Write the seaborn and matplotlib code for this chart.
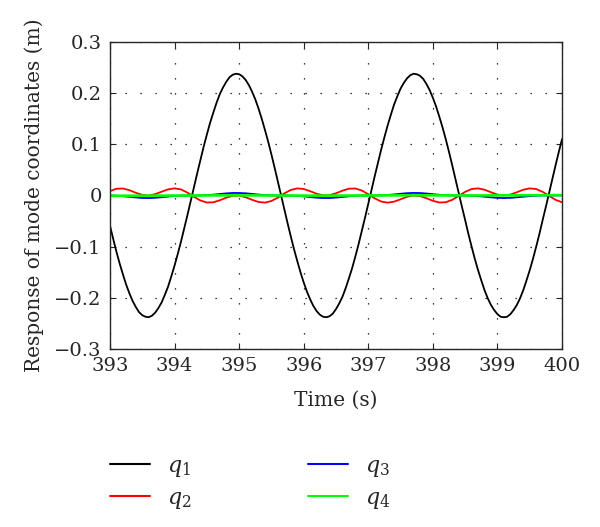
import numpy as np
import pandas as pd
import seaborn as sns
import matplotlib.pyplot as plt

# time samples (s): q1 read every 0.05 s, the small modes every 0.1 s
time_q1 = np.round(np.arange(393.0, 400.025, 0.05), 2)
time = np.round(np.arange(393.0, 400.05, 0.1), 1)

# response of mode coordinates (m)
q1 = [-0.059, -0.085, -0.110, -0.133, -0.154, -0.174, -0.191, -0.206, -0.218, -0.228,
      -0.234, -0.237, -0.238, -0.235, -0.229, -0.220, -0.209, -0.194, -0.178, -0.158,
      -0.137, -0.114, -0.090, -0.064, -0.038, -0.011, 0.016, 0.043, 0.069, 0.095,
      0.119, 0.142, 0.162, 0.181, 0.198, 0.211, 0.222, 0.231, 0.236, 0.238,
      0.237, 0.233, 0.226, 0.216, 0.203, 0.188, 0.170, 0.150, 0.128, 0.105,
      0.080, 0.054, 0.027, 0.000, -0.027, -0.054, -0.080, -0.105, -0.128, -0.150,
      -0.170, -0.188, -0.203, -0.216, -0.226, -0.233, -0.237, -0.238, -0.236, -0.231,
      -0.222, -0.211, -0.198, -0.181, -0.162, -0.142, -0.119, -0.095, -0.069, -0.043,
      -0.016, 0.011, 0.038, 0.064, 0.090, 0.114, 0.137, 0.158, 0.178, 0.194,
      0.209, 0.220, 0.229, 0.235, 0.238, 0.237, 0.234, 0.228, 0.218, 0.206,
      0.191, 0.174, 0.154, 0.133, 0.110, 0.085, 0.059, 0.032, 0.005, -0.022,
      -0.048, -0.075, -0.100, -0.124, -0.146, -0.166, -0.185, -0.201, -0.214, -0.224,
      -0.232, -0.237, -0.238, -0.237, -0.232, -0.224, -0.214, -0.201, -0.185, -0.166,
      -0.146, -0.124, -0.100, -0.075, -0.048, -0.022, 0.005, 0.032, 0.059, 0.085,
      0.110]
q2 = [0.0085, 0.0132, 0.0137, 0.0104, 0.0053, 0.0012, 0.0001, 0.0026, 0.0074, 0.0120,
      0.0140, 0.0118, 0.0056, -0.0025, -0.0097, -0.0137, -0.0133, -0.0094, -0.0043, -0.0007,
      -0.0003, -0.0034, -0.0084, -0.0127, -0.0139, -0.0108, -0.0041, 0.0041, 0.0108, 0.0139,
      0.0127, 0.0084, 0.0034, 0.0003, 0.0007, 0.0043, 0.0094, 0.0133, 0.0137, 0.0097,
      0.0025, -0.0056, -0.0118, -0.0140, -0.0120, -0.0074, -0.0026, -0.0001, -0.0012, -0.0053,
      -0.0104, -0.0137, -0.0132, -0.0085, -0.0008, 0.0071, 0.0126, 0.0139, 0.0113, 0.0063,
      0.0018, 0.0000, 0.0018, 0.0063, 0.0113, 0.0139, 0.0126, 0.0071, -0.0008, -0.0085,
      -0.0132]
q3 = [-0.0001, -0.0005, -0.0014, -0.0026, -0.0039, -0.0048, -0.0050, -0.0045, -0.0034, -0.0021,
      -0.0010, -0.0003, 0.0000, 0.0000, 0.0001, 0.0006, 0.0016, 0.0029, 0.0041, 0.0049,
      0.0049, 0.0043, 0.0031, 0.0018, 0.0008, 0.0002, 0.0000, 0.0000, -0.0002, -0.0008,
      -0.0018, -0.0031, -0.0043, -0.0049, -0.0049, -0.0041, -0.0029, -0.0016, -0.0006, -0.0001,
      0.0000, 0.0000, 0.0003, 0.0010, 0.0021, 0.0034, 0.0045, 0.0050, 0.0048, 0.0039,
      0.0026, 0.0014, 0.0005, 0.0001, 0.0000, 0.0000, -0.0004, -0.0012, -0.0023, -0.0036,
      -0.0046, -0.0050, -0.0046, -0.0036, -0.0023, -0.0012, -0.0004, 0.0000, 0.0000, 0.0001,
      0.0005]
q4 = [-0.0006, -0.0006, -0.0005, -0.0005, -0.0004, -0.0004, -0.0003, -0.0003, -0.0002, -0.0002,
      -0.0001, -0.0001, 0.0000, 0.0000, 0.0001, 0.0001, 0.0002, 0.0002, 0.0003, 0.0003,
      0.0003, 0.0002, 0.0002, 0.0001, 0.0001, 0.0000, 0.0000, -0.0001, -0.0001, -0.0002,
      -0.0002, -0.0003, -0.0003, -0.0003, -0.0002, -0.0002, -0.0001, -0.0001, 0.0000, 0.0000,
      0.0001, 0.0001, 0.0002, 0.0002, 0.0003, 0.0003, 0.0004, 0.0004, 0.0004, 0.0003,
      0.0003, 0.0002, 0.0002, 0.0001, 0.0001, 0.0000, 0.0000, 0.0001, 0.0001, 0.0002,
      0.0002, 0.0003, 0.0003, 0.0004, 0.0004, 0.0005, 0.0005, 0.0006, 0.0006, 0.0007,
      0.0007]

names = ["$q_1$", "$q_2$", "$q_3$", "$q_4$"]
colors = ["#000000", "#ff0000", "#0000ff", "#00ff00"]

parts = [pd.DataFrame({"time": time_q1, "resp": q1, "mode": names[0]})]
for n, v in zip(names[1:], [q2, q3, q4]):
    parts.append(pd.DataFrame({"time": time, "resp": v, "mode": n}))
long = pd.concat(parts, ignore_index=True)

sns.set_style("ticks")
plt.rcParams["font.family"] = ["DejaVu Serif"]
plt.rcParams["mathtext.fontset"] = "dejavuserif"

fig = plt.figure(figsize=(6.0, 5.27), dpi=100)
ax = fig.add_axes([0.1833, 0.3378, 0.7534, 0.5825])

sns.lineplot(data=long, x="time", y="resp", hue="mode", palette=dict(zip(names, colors)),
             linewidth=1.3, ax=ax, legend=False, sort=False)
ax.lines[3].set_linewidth(1.9)

ax.set_xlim(393, 400)
ax.set_ylim(-0.3, 0.3)
ax.set_xticks(range(393, 401))
ax.set_yticks([-0.3, -0.2, -0.1, 0, 0.1, 0.2, 0.3])
ax.set_yticklabels(["\u22120.3", "\u22120.2", "\u22120.1", "0", "0.1", "0.2", "0.3"])
ax.tick_params(direction="in", top=True, right=True, labelsize=14, length=4, width=0.8, pad=6)
ax.grid(True, color="black", linestyle=(0, (1, 11)), linewidth=0.9)
for s in ax.spines.values():
    s.set_linewidth(1.0)
ax.set_xlabel("Time (s)", fontsize=14.5, labelpad=11)
ax.set_ylabel("Response of mode coordinates (m)", fontsize=14.5, labelpad=7)

handles = [plt.Line2D([], [], color=c, linewidth=1.5) for c in colors]
fig.legend(handles, names, ncol=2, loc="upper left", bbox_to_anchor=(0.168, 0.154),
           frameon=False, fontsize=16, handlelength=1.8, handletextpad=0.8,
           columnspacing=5.2, labelspacing=0.35, borderaxespad=0)

fig.savefig("out.png", dpi=100)
